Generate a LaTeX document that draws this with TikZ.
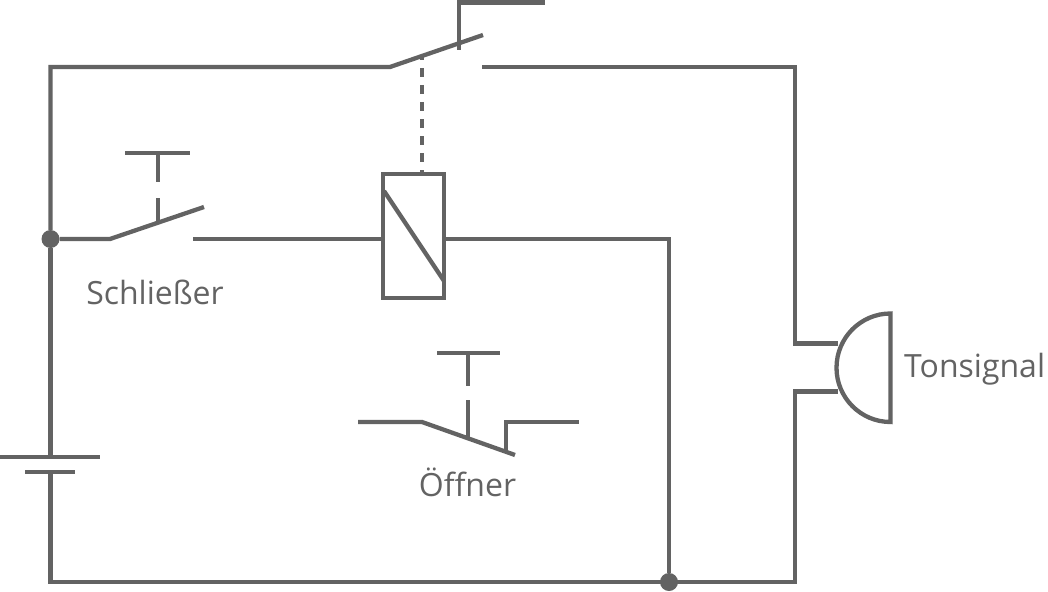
\documentclass[tikz,border=0pt]{standalone}
\usepackage{fontspec}
\setmainfont{Open Sans}
\definecolor{wiregray}{HTML}{636363}
\tikzset{
  wire/.style={line width=4.3pt,draw=wiregray},
  joint/.style={circle,fill=wiregray,inner sep=0pt,minimum size=18pt},
  caption/.style={text=wiregray,font=\fontsize{32}{36}\selectfont,inner sep=0pt,anchor=base},
}
\begin{document}
\begin{tikzpicture}[x=1pt,y=-1pt]
        \useasboundingbox (0,0) rectangle (1048,591);
        \node [wire,rectangle,minimum width=61pt,minimum height=124pt,inner sep=0pt,outer sep=0pt] (relay) at (413.5,236) {};
        \node [joint] (jointleft) at (50.5,239) {};
        \node [joint] (jointbottom) at (669,582) {};
        \coordinate (hinge) at (390,67);
        \coordinate (bladeend) at (483,35);
        \coordinate (contact) at (482,67);
        \coordinate (pull) at (422,56);
        \coordinate (cellplus) at (50.5,457);
        \coordinate (cellminus) at (50.5,472);
        \coordinate (buzzertop) at (890.5,313.5);
        \coordinate (buzzerbottom) at (890.5,422);
        \coordinate (coilin) at (193,239);
        \coordinate (coilout) at (669,239);
        \draw [wire] (jointleft) to (50.5,67) to (hinge) to (bladeend);
        \draw [wire] (459,50) to (459,2.5) to (545,2.5);
        \draw [wire] (contact) to (795,67) to (795,343.5) to (838,343.5);
        \draw [wire,dash pattern=on 9pt off 8pt,dash phase=5pt] (pull) to (pull |- relay.north);
        \draw [wire] (384,191) to (444,281);
        \draw [wire] (jointleft) to (110,239) to (204,207);
        \draw [wire] (coilin) to (coilin -| relay.west);
        \draw [wire] (125,153) to (190,153);
        \draw [wire] (158,153) to (158,182);
        \draw [wire] (158,198) to (158,222);
        \draw [wire] (coilout -| relay.east) to (coilout) to (jointbottom);
        \draw [wire] (jointleft) to (cellplus);
        \draw [wire] (0,457) to (100,457);
        \draw [wire] (25,472) to (75,472);
        \draw [wire] (cellminus) to (50.5,582) to (795,582) to (795,391.5) to (838,391.5);
        \draw [wire] (358,422) to (422,422) to (515,455);
        \draw [wire] (437,353) to (500,353);
        \draw [wire] (468,353) to (468,386);
        \draw [wire] (468,400) to (468,437);
        \draw [wire] (506,450) to (506,422) to (579,422);
        \draw [wire] (buzzerbottom) arc[start angle=90,end angle=270,x radius=54,y radius=54.25] -- cycle;
        \node [caption] (schliesser) at (155,304) {Schließer};
        \node [caption] (oeffner) at (467.5,496) {Öffner};
        \node [caption,anchor=base west] (tonsignal) at (904,377) {Tonsignal};
    \end{tikzpicture}
\end{document}
